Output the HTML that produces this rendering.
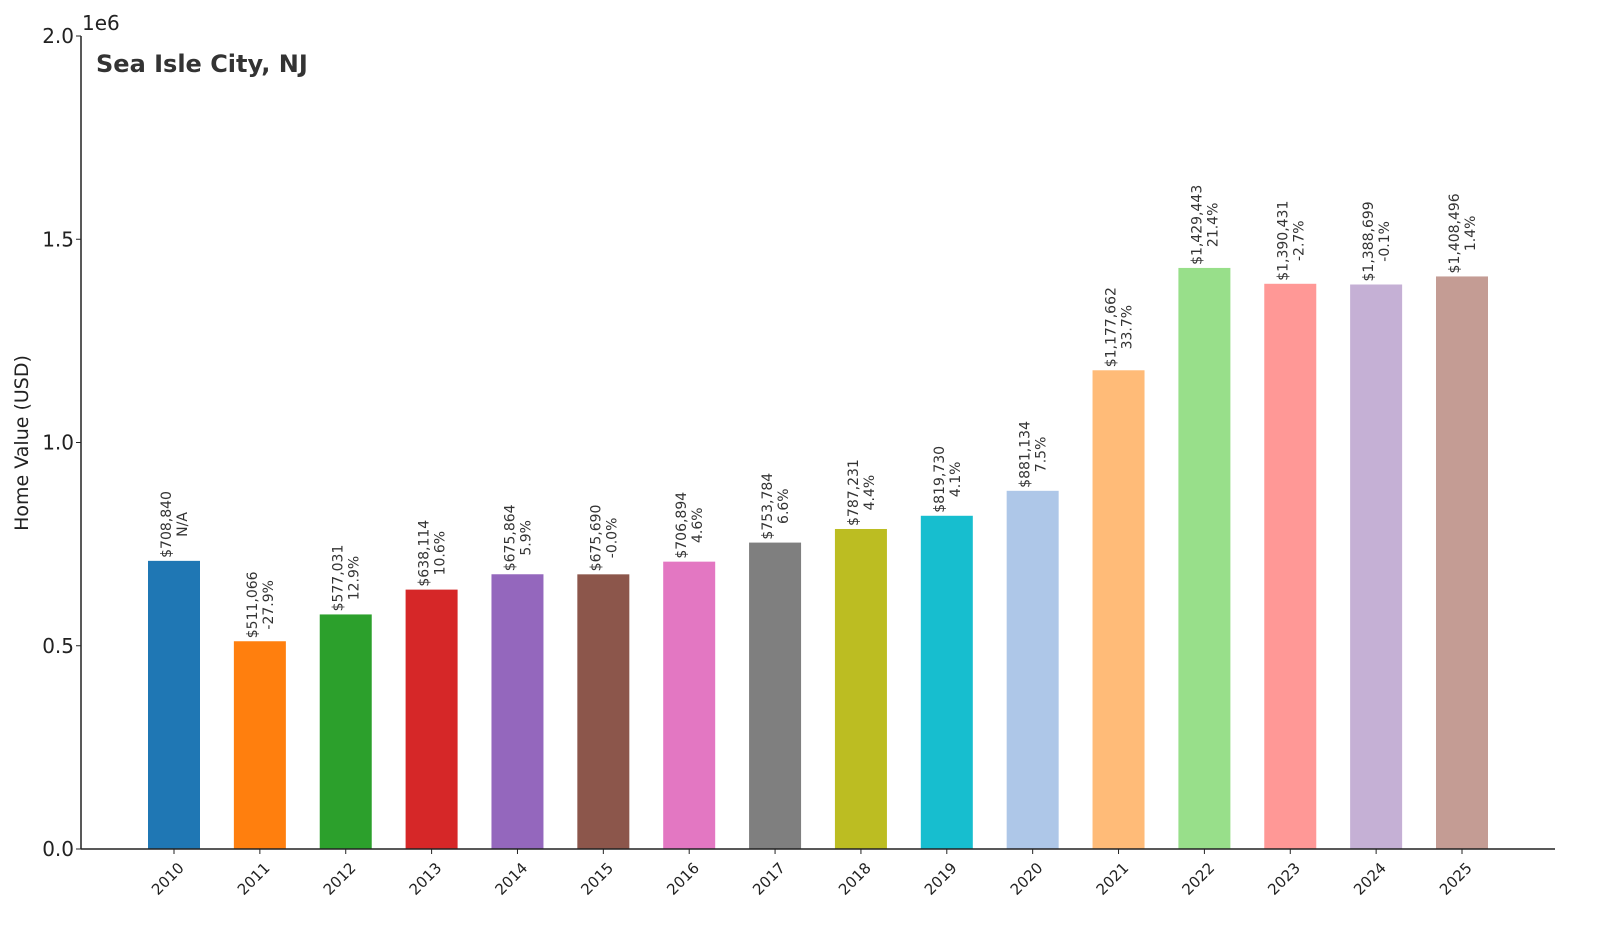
<!DOCTYPE html>
<html><head><meta charset="utf-8"><style>
body{margin:0;background:#fff;}
svg{font-family:"DejaVu Sans","Liberation Sans",sans-serif;}
</style></head><body>
<svg id="chart" width="1600" height="928" viewBox="0 0 1600 928" xmlns="http://www.w3.org/2000/svg">
<text x="96" y="72" font-size="24" font-weight="bold" fill="#333">Sea Isle City, NJ</text>
<text x="82" y="30" font-size="20" fill="#222">1e6</text>
<text transform="translate(28,443) rotate(-90)" text-anchor="middle" font-size="19" fill="#222">Home Value (USD)</text>
<g id="bars"></g><g id="axes"></g>
</svg>
<script>
const years=["2010","2011","2012","2013","2014","2015","2016","2017","2018","2019","2020","2021","2022","2023","2024","2025"];
const values=[708840,511066,577031,638114,675864,675690,706894,753784,787231,819730,881134,1177662,1429443,1390431,1388699,1408496];
const changes=["N/A","-27.9%","12.9%","10.6%","5.9%","-0.0%","4.6%","6.6%","4.4%","4.1%","7.5%","33.7%","21.4%","-2.7%","-0.1%","1.4%"];
const yTicks=[0,500000,1000000,1500000,2000000];
const yTickLabels=["0.0","0.5","1.0","1.5","2.0"];
const colors=["#1f77b4","#ff7f0e","#2ca02c","#d62728","#9467bd","#8c564b","#e377c2","#7f7f7f","#bcbd22","#17becf","#aec7e8","#ffbb78","#98df8a","#ff9896","#c5b0d5","#c49c94"];
const NS="http://www.w3.org/2000/svg";
const x0=81,x1=1555,yTop=36,yBot=849,yMax=2000000;
const yS=v=>yBot-(v/yMax)*(yBot-yTop);
const xS=i=>174+i*((1462-174)/(years.length-1));
const bw=52;
const bars=document.getElementById('bars'),axes=document.getElementById('axes');
function mk(tag,attrs,parent,text){const e=document.createElementNS(NS,tag);for(const k in attrs)e.setAttribute(k,attrs[k]);if(text!==undefined)e.textContent=text;parent.appendChild(e);return e;}
values.forEach((v,i)=>{
  const cx=xS(i),top=yS(v);
  const r=mk('rect',{x:cx-bw/2,y:top,width:bw,height:yBot-top,fill:colors[i]},bars);
  
  
  const t1=mk('text',{transform:`translate(${cx-3},${top-3}) rotate(-90)`,'font-size':14,fill:'#333'},bars,'$'+v.toLocaleString('en-US'));
  
  
  const w=t1.getComputedTextLength();
  const t2=mk('text',{transform:`translate(${cx+13},${top-3-w/2}) rotate(-90)`,'font-size':14,fill:'#333','text-anchor':'middle'},bars,changes[i]);
  
  
  const tk=mk('line',{x1:cx,x2:cx,y1:yBot,y2:yBot+5,stroke:'#222','stroke-width':1},axes);
  
  
  const xl=mk('text',{transform:`translate(${cx+3},${yBot+12}) rotate(-45)`,'font-size':15,fill:'#222','text-anchor':'end','dominant-baseline':'hanging'},axes,years[i]);
  
  
});
yTicks.forEach((v,i)=>{
  const y=yS(v);
  const l=mk('line',{x1:x0-5,x2:x0,y1:y,y2:y,stroke:'#222','stroke-width':1},axes);
  
  
  const t=mk('text',{x:x0-7,y:y+7,'font-size':20,fill:'#222','text-anchor':'end'},axes,yTickLabels[i]);
  
  
});
const ya=mk('line',{x1:x0,x2:x0,y1:yTop,y2:yBot,stroke:'#222','stroke-width':1.5},axes);


const xa=mk('line',{x1:x0,x2:x1,y1:yBot,y2:yBot,stroke:'#222','stroke-width':1.5},axes);


</script>
</body></html>
